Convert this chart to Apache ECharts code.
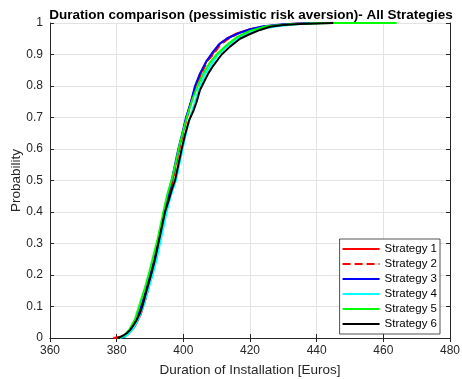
<!DOCTYPE html>
<html>
<head>
<meta charset="utf-8">
<script src="https://cdn.jsdelivr.net/npm/echarts@6/dist/echarts.min.js"></script>
<style>
  html, body { margin: 0; padding: 0; background: #fff; }
  #chart { width: 462px; height: 379px; }
</style>
</head>
<body>
<div id="chart"></div>
<script>
const strategyNames = ["Strategy 1", "Strategy 2", "Strategy 3", "Strategy 4", "Strategy 5", "Strategy 6"];
const strategyColors = ["#ff0000", "#ff0000", "#0000ff", "#00ffff", "#00ff00", "#000000"];

const strategy1 = [[379,0],[381,0.003],[383,0.01],[385,0.03],[387,0.07],[388.5,0.12],[390,0.18],[391.5,0.24],[392.7,0.3],[393.7,0.35],[394.6,0.4],[395.6,0.45],[396.7,0.5],[397.7,0.55],[398.7,0.6],[399.8,0.65],[401,0.7],[402.3,0.75],[403.7,0.8],[405.3,0.84],[407,0.88],[408.7,0.9],[410.5,0.93],[413,0.95],[416,0.967],[420,0.98],[425,0.99],[432,0.997],[440,1]];
const strategy2 = [[379.5,0],[381.5,0.004],[383.5,0.012],[385.3,0.035],[387.2,0.075],[388.7,0.125],[390.2,0.185],[391.6,0.245],[392.8,0.3],[393.8,0.35],[394.7,0.4],[395.7,0.45],[396.8,0.5],[397.8,0.55],[398.8,0.6],[399.9,0.65],[401.1,0.7],[402.4,0.75],[403.8,0.8],[405.5,0.84],[407.2,0.88],[409,0.9],[411,0.93],[413.5,0.95],[416.5,0.967],[420.5,0.98],[426,0.99],[433,0.997],[441,1]];
const strategy3 = [[381,0],[382.5,0.005],[384,0.02],[385.5,0.045],[387,0.09],[388.5,0.14],[390,0.2],[391.3,0.25],[392.3,0.3],[393.3,0.35],[394.2,0.4],[395.3,0.45],[396.5,0.5],[397.5,0.55],[398.5,0.6],[399.7,0.65],[400.8,0.7],[402.3,0.75],[403.5,0.8],[405,0.84],[407,0.88],[409,0.91],[411,0.935],[413,0.95],[416,0.965],[420,0.98],[424,0.99],[430,0.996],[438,1]];
const strategy4 = [[381,0],[383,0.008],[385,0.03],[386.5,0.06],[388,0.1],[389.5,0.155],[390.8,0.2],[392,0.25],[393,0.3],[394,0.35],[395,0.4],[396.2,0.45],[397.8,0.5],[398.8,0.55],[399.8,0.6],[400.8,0.65],[402,0.7],[403.5,0.75],[405,0.8],[406.7,0.84],[408.5,0.87],[410.5,0.9],[413,0.925],[416,0.95],[419,0.965],[423,0.98],[428,0.99],[435,0.997],[442,1]];
const strategy5 = [[381,0],[382.5,0.01],[384,0.03],[385.5,0.06],[387,0.11],[388.5,0.16],[389.8,0.21],[391,0.26],[392.2,0.31],[393.2,0.36],[394.2,0.41],[395.3,0.46],[396.7,0.51],[397.8,0.56],[398.8,0.61],[400,0.66],[401.3,0.71],[402.8,0.76],[404.3,0.8],[406,0.84],[408,0.875],[410,0.9],[413,0.93],[416,0.955],[420,0.975],[425,0.99],[432,0.996],[440,0.999],[445,1],[464,1]];
const strategy6 = [[380.3,0],[381.5,0.005],[383,0.015],[384,0.025],[385,0.04],[386,0.057],[387,0.08],[387.7,0.1],[389,0.152],[390.3,0.2],[391.5,0.25],[392.5,0.3],[393.5,0.35],[394.5,0.4],[395.7,0.44],[396.5,0.47],[397.5,0.5],[398.5,0.55],[399.5,0.6],[400.5,0.645],[401.7,0.69],[403,0.72],[404,0.75],[405,0.787],[406.3,0.815],[407.5,0.84],[409,0.865],[411.5,0.9],[414,0.925],[417,0.95],[420,0.965],[423,0.978],[426,0.988],[430,0.994],[435,0.997],[445,1]];

const strategyData = [strategy1, strategy2, strategy3, strategy4, strategy5, strategy6];

const xTicks = [360, 380, 400, 420, 440, 460, 480];
const yTicks = [0, 0.1, 0.2, 0.3, 0.4, 0.5, 0.6, 0.7, 0.8, 0.9, 1];

const axisColor = "#262626";
const font = "Liberation Sans, Arial, sans-serif";

let myChart = echarts.init(document.getElementById("chart"), null, { renderer: "canvas" });

let series = strategyData.map((d, i) => ({
  name: strategyNames[i],
  type: "line",
  data: d,
  showSymbol: false,
  symbol: "none",
  xAxisIndex: 0,
  yAxisIndex: 0,
  lineStyle: {
    color: strategyColors[i],
    width: 2,
    type: i === 1 ? "dashed" : "solid",
  },
  itemStyle: { color: strategyColors[i] },
  animation: false,
  z: 3 + i,
}));

const xCommon = {
  type: "value",
  min: 360,
  max: 480,
  interval: 20,
  axisLine: { show: true, lineStyle: { color: axisColor, width: 1 } },
  axisTick: { show: true, inside: true, length: 4, lineStyle: { color: axisColor } },
};
const yCommon = {
  type: "value",
  min: 0,
  max: 1,
  interval: 0.1,
  axisLine: { show: true, lineStyle: { color: axisColor, width: 1 } },
  axisTick: { show: true, inside: true, length: 4, lineStyle: { color: axisColor } },
};

myChart.setOption({
  animation: false,
  backgroundColor: "#ffffff",
  title: {
    text: "Duration comparison (pessimistic risk aversion)- All Strategies",
    left: 246,
    textAlign: "center",
    top: 3,
    textStyle: { fontFamily: font, fontSize: 13.5, fontWeight: "bold", color: "#000" },
  },
  grid: { left: 50, right: 12, top: 23, bottom: 41, outerBoundsMode: "none", containLabel: false },
  legend: {
    data: strategyNames,
    orient: "vertical",
    right: 22,
    bottom: 45,
    itemWidth: 37,
    itemHeight: 10,
    itemGap: 3,
    padding: [4, 3, 4, 2],
    backgroundColor: "#ffffff",
    borderColor: axisColor,
    borderWidth: 0.8,
    borderRadius: 0,
    itemStyle: { opacity: 0 },
    textStyle: { fontFamily: font, fontSize: 11.5, color: "#000" },
  },
  xAxis: [
    {
      ...xCommon,
      position: "bottom",
      name: "Duration of Installation [Euros]",
      nameLocation: "middle",
      nameGap: 25,
      nameMoveOverlap: false,
      nameTextStyle: { fontFamily: font, fontSize: 13.5, color: axisColor },
      axisLabel: {
        fontFamily: font, fontSize: 12, color: axisColor, margin: 7,
        formatter: (v) => (xTicks.includes(v) ? String(v) : ""),
      },
      splitLine: { show: true, lineStyle: { color: "#e3e3e3", width: 1 } },
    },
    {
      ...xCommon,
      position: "top",
      axisLabel: { show: false },
      splitLine: { show: false },
    },
  ],
  yAxis: [
    {
      ...yCommon,
      position: "left",
      name: "Probability",
      nameLocation: "middle",
      nameGap: 27,
      nameMoveOverlap: false,
      nameTextStyle: { fontFamily: font, fontSize: 13.5, color: axisColor },
      axisLabel: {
        fontFamily: font, fontSize: 12, color: axisColor, margin: 7,
        formatter: (v) => String(yTicks.find((t) => Math.abs(t - v) < 1e-6) ?? ""),
      },
      splitLine: { show: true, lineStyle: { color: "#e3e3e3", width: 1 } },
    },
    {
      ...yCommon,
      position: "right",
      axisLabel: { show: false },
      splitLine: { show: false },
    },
  ],
  series: series,
});
</script>
</body>
</html>
